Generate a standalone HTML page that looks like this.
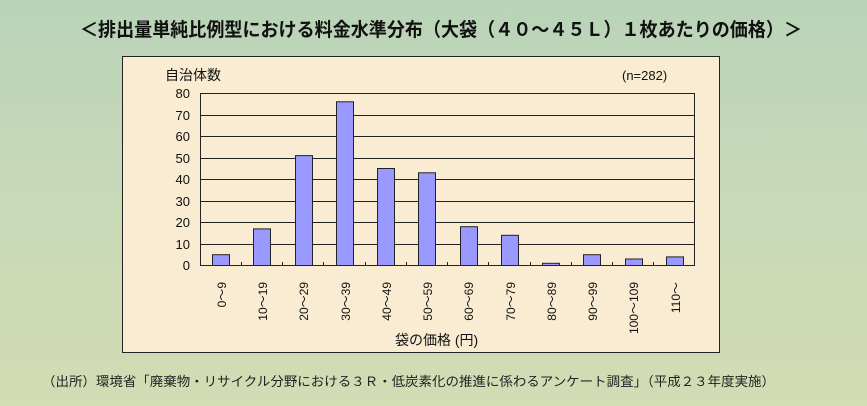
<!DOCTYPE html>
<html><head><meta charset="utf-8"><style>
html,body{margin:0;padding:0;}
body{width:867px;height:406px;overflow:hidden;background:linear-gradient(180deg,#b9d3b8 0%,#c6d8b8 40%,#d3dcb4 100%);font-family:"Liberation Sans","Noto Sans CJK JP",sans-serif;}
</style></head><body>
<svg width="867" height="406" xmlns="http://www.w3.org/2000/svg" style="position:absolute;left:0;top:0;font-family:'Liberation Sans','Noto Sans CJK JP',sans-serif">
<text x="80" y="36" font-size="19" font-weight="bold" fill="#111" textLength="722" lengthAdjust="spacingAndGlyphs">＜排出量単純比例型における料金水準分布（大袋（４０～４５Ｌ）１枚あたりの価格）＞</text>
<rect x="122.5" y="56.5" width="597" height="296" fill="#f9ecd2" stroke="#222" stroke-width="1"/>
<text x="165" y="80" font-size="14" fill="#111">自治体数</text>
<text x="622" y="80" font-size="13" fill="#111">(n=282)</text>
<g stroke="#222" stroke-width="1">
<line x1="200" y1="93.5" x2="695" y2="93.5"/>
<line x1="200" y1="115.5" x2="695" y2="115.5"/>
<line x1="200" y1="136.5" x2="695" y2="136.5"/>
<line x1="200" y1="158.5" x2="695" y2="158.5"/>
<line x1="200" y1="179.5" x2="695" y2="179.5"/>
<line x1="200" y1="201.5" x2="695" y2="201.5"/>
<line x1="200" y1="222.5" x2="695" y2="222.5"/>
<line x1="200" y1="244.5" x2="695" y2="244.5"/>
<line x1="200.5" y1="93" x2="200.5" y2="266"/>
<line x1="694.5" y1="93" x2="694.5" y2="266"/>
<line x1="200" y1="265.5" x2="695" y2="265.5"/>
<path d="M241.5 262v4M282.5 262v4M323.5 262v4M365.5 262v4M406.5 262v4M447.5 262v4M488.5 262v4M530.5 262v4M571.5 262v4M612.5 262v4M653.5 262v4"/>
</g>
<g font-size="13" fill="#111" text-anchor="end">
<text x="190" y="98">80</text><text x="190" y="120">70</text><text x="190" y="141">60</text><text x="190" y="163">50</text><text x="190" y="184">40</text><text x="190" y="206">30</text><text x="190" y="227">20</text><text x="190" y="249">10</text><text x="190" y="270">0</text>
</g>
<g fill="#9999ff" stroke="#222" stroke-width="1">
<rect x="212.5" y="254.7" width="17" height="10.8"/>
<rect x="253.5" y="228.9" width="17" height="36.6"/>
<rect x="295.5" y="155.6" width="17" height="109.9"/>
<rect x="336.5" y="101.8" width="17" height="163.7"/>
<rect x="377.5" y="168.5" width="17" height="97"/>
<rect x="418.5" y="172.8" width="17" height="92.7"/>
<rect x="460.5" y="226.7" width="17" height="38.8"/>
<rect x="501.5" y="235.3" width="17" height="30.2"/>
<rect x="542.5" y="263.3" width="17" height="2.2"/>
<rect x="583.5" y="254.7" width="17" height="10.8"/>
<rect x="625.5" y="259" width="17" height="6.5"/>
<rect x="666.5" y="256.9" width="17" height="8.6"/>
</g>
<g font-size="12" fill="#111" text-anchor="end">
<text transform="translate(226,282) rotate(-90)">0～9</text>
<text transform="translate(267,282) rotate(-90)">10～19</text>
<text transform="translate(308,282) rotate(-90)">20～29</text>
<text transform="translate(350,282) rotate(-90)">30～39</text>
<text transform="translate(391,282) rotate(-90)">40～49</text>
<text transform="translate(432,282) rotate(-90)">50～59</text>
<text transform="translate(473,282) rotate(-90)">60～69</text>
<text transform="translate(515,282) rotate(-90)">70～79</text>
<text transform="translate(556,282) rotate(-90)">80～89</text>
<text transform="translate(597,282) rotate(-90)">90～99</text>
<text transform="translate(638,282) rotate(-90)">100～109</text>
<text transform="translate(680,282) rotate(-90)">110～</text>
</g>
<text x="395" y="345" font-size="14" fill="#111">袋の価格 (円)</text>
<text x="42" y="386" font-size="13" fill="#222" textLength="733" lengthAdjust="spacingAndGlyphs">（出所）環境省「廃棄物・リサイクル分野における３Ｒ・低炭素化の推進に係わるアンケート調査」（平成２３年度実施）</text>
</svg>
</body></html>
